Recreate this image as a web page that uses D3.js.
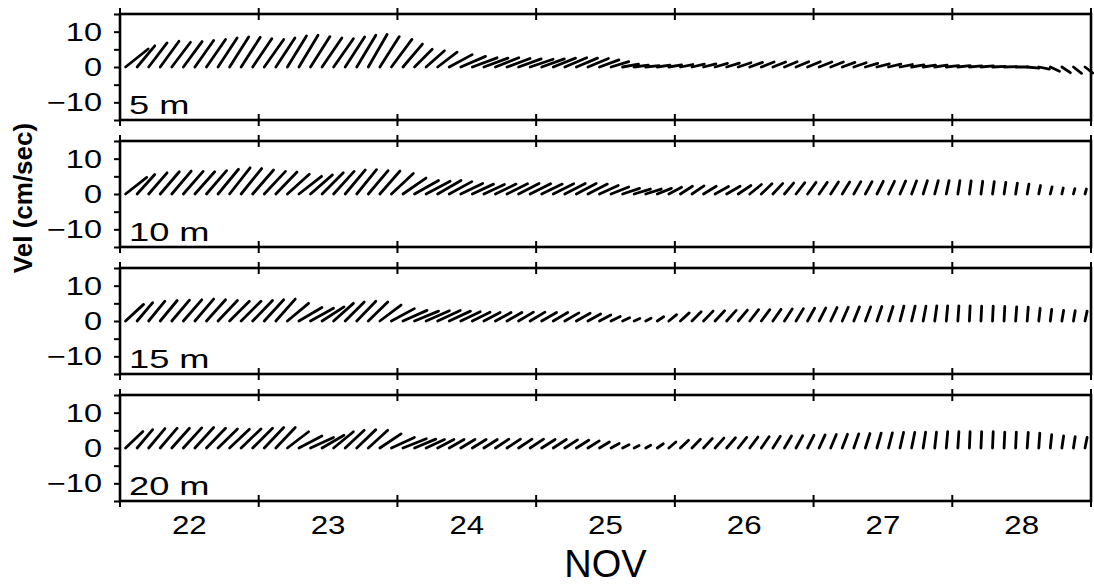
<!DOCTYPE html>
<html><head><meta charset="utf-8">
<script src="https://cdn.jsdelivr.net/npm/d3@7"></script>
<style>
body{margin:0;background:#fff;}
svg{display:block;}
text{font-family:"Liberation Sans",Arial,Helvetica,sans-serif;fill:#000;}
</style>
</head><body>
<svg id="chart" width="1094" height="584"></svg>
<script>
// ---- data ----
const dayTicks = [22,23,24,25,26,27,28,29];
const dayLabels = [22,23,24,25,26,27,28];
const monthLabel = "NOV";
const yAxisTitle = "Vel (cm/sec)";
const yTickValues = [-15,-10,-5,0,5,10,15];
const yTickLabels = [10,0,-10];
const depthLabels = ["5 m","10 m","15 m","20 m"];
const firstTime = 22.04;      // day of Nov of first stick
const stepDays = 1/12;        // 2-hourly sticks

const u5 = [6.4,5.0,5.2,5.3,5.3,5.3,5.3,5.4,5.4,5.4,5.4,5.4,5.5,5.4,5.4,5.4,5.5,5.6,5.6,5.5,5.4,5.3,5.5,5.8,
 5.5,5.0,5.2,5.5,6.5,7.0,7.0,6.8,6.6,6.5,6.4,6.5,6.4,6.3,6.2,6.0,5.8,5.5,5.0,4.5,4.0,3.8,3.6,3.6,
 3.5,3.5,3.5,3.5,3.6,3.6,3.6,3.6,3.6,3.6,3.6,3.6,3.6,3.6,3.6,3.5,3.5,3.5,3.5,3.5,3.5,3.5,3.5,3.5,
 3.5,3.5,3.5,3.5,3.5,3.4,3.3,3.0,2.6,2.4,2.3,2.2];
const v5 = [5.1,6.0,6.8,7.3,7.0,7.2,7.5,7.8,8.2,8.5,8.4,8.0,7.8,8.2,8.8,9.0,8.6,8.2,8.0,8.5,9.0,9.2,8.6,7.8,
 6.5,5.0,4.6,4.2,3.5,3.0,2.6,2.5,2.6,2.4,2.3,2.2,2.3,2.5,2.6,2.5,2.4,2.0,1.5,0.8,0.5,0.4,0.5,0.6,
 0.7,0.8,0.9,1.0,1.1,1.2,1.3,1.4,1.4,1.5,1.5,1.5,1.4,1.4,1.3,1.2,1.0,0.9,0.8,0.7,0.6,0.5,0.5,0.4,
 0.4,0.3,0.3,0.2,0.1,0.0,-0.3,-0.6,-1.2,-1.6,-1.8,-1.7];

const u10 = [6.0,5.0,5.2,5.4,5.5,5.6,5.6,5.7,5.8,5.8,5.8,5.9,6.0,6.0,6.2,6.4,6.2,6.0,5.8,5.7,5.6,5.6,5.7,6.2,
 6.5,6.8,6.8,6.6,6.4,6.2,6.0,5.8,5.8,5.8,5.8,5.8,5.8,5.8,5.8,5.6,5.5,5.3,5.0,4.8,4.6,4.4,4.0,3.6,
 3.4,3.4,3.6,3.8,3.8,3.6,3.3,3.0,2.8,2.6,2.5,2.4,2.3,2.2,2.1,2.0,1.9,1.8,1.7,1.6,1.4,1.2,1.0,0.8,
 0.6,0.5,0.5,0.5,0.5,0.5,0.5,0.5,0.5,0.4,0.4,0.4];
const v10 = [4.7,5.5,6.0,6.3,6.5,6.4,6.3,6.6,7.0,7.4,7.2,6.8,6.4,6.2,5.6,5.0,5.4,6.0,6.4,6.8,6.9,6.6,6.5,5.8,
 4.5,3.8,3.6,3.8,3.5,3.0,2.8,2.7,2.8,2.9,3.0,2.9,2.8,2.9,3.0,3.0,2.8,2.4,2.0,1.6,1.4,1.4,1.6,1.9,
 2.2,2.3,2.2,2.1,2.2,2.4,2.7,2.9,3.0,3.1,3.2,3.3,3.3,3.4,3.4,3.5,3.5,3.6,3.6,3.7,3.7,3.8,3.8,3.8,
 3.8,3.7,3.6,3.5,3.3,3.1,2.8,2.4,2.0,1.7,1.5,1.4];

const u15 = [5.1,4.4,4.6,4.8,5.0,5.2,5.3,5.4,5.5,5.6,5.6,5.6,5.5,5.5,6.0,6.5,6.5,6.2,5.6,5.4,5.4,5.5,6.0,6.5,
 6.8,6.8,6.6,6.4,6.0,5.5,5.0,4.6,4.4,4.2,4.2,4.2,4.2,4.1,4.0,3.9,3.6,3.2,2.6,2.0,1.6,1.5,1.8,2.2,
 2.5,2.6,2.7,2.7,2.7,2.6,2.5,2.4,2.3,2.2,2.1,2.0,1.9,1.8,1.7,1.6,1.5,1.4,1.3,1.1,1.0,0.8,0.6,0.4,
 0.3,0.2,0.2,0.2,0.2,0.3,0.3,0.4,0.4,0.5,0.5,0.6];
const v15 = [4.7,5.2,5.6,5.8,5.9,6.0,6.2,6.0,5.8,5.6,5.6,5.8,6.0,6.2,5.0,3.8,3.6,4.0,5.0,5.4,5.6,5.4,4.5,3.5,
 3.0,2.8,2.9,3.0,2.8,2.6,2.5,2.4,2.4,2.4,2.5,2.5,2.4,2.4,2.3,2.2,2.0,1.7,1.3,0.9,0.7,0.8,1.2,1.8,
 2.3,2.6,2.8,2.9,3.0,3.1,3.2,3.2,3.3,3.4,3.5,3.6,3.7,3.8,3.9,4.0,4.0,4.1,4.1,4.2,4.2,4.2,4.3,4.3,
 4.3,4.3,4.2,4.2,4.1,4.0,3.9,3.6,3.3,3.0,2.9,2.8];

const u20 = [4.9,4.4,4.6,4.8,5.0,5.2,5.3,5.4,5.5,5.6,5.6,5.6,5.5,5.5,6.0,6.5,6.5,6.2,5.6,5.4,5.4,5.5,6.0,6.5,
 6.6,6.0,5.2,4.6,4.2,4.0,3.9,3.8,3.8,3.8,3.8,3.8,3.8,3.7,3.6,3.5,3.2,2.8,2.3,1.8,1.4,1.4,1.7,2.0,
 2.3,2.4,2.5,2.5,2.5,2.4,2.3,2.2,2.1,2.0,1.9,1.8,1.7,1.6,1.5,1.4,1.3,1.2,1.1,1.0,0.9,0.7,0.5,0.4,
 0.3,0.2,0.2,0.2,0.2,0.2,0.3,0.3,0.4,0.5,0.5,0.6];
const v20 = [4.7,5.2,5.5,5.6,5.6,5.7,5.8,5.6,5.4,5.3,5.4,5.6,5.8,5.8,4.6,3.4,3.0,3.6,4.6,5.0,5.2,5.0,4.0,3.0,
 2.6,2.5,2.4,2.4,2.4,2.4,2.4,2.4,2.5,2.5,2.5,2.5,2.4,2.4,2.3,2.2,2.0,1.7,1.3,0.9,0.7,0.8,1.2,1.7,
 2.2,2.5,2.7,2.8,2.9,3.0,3.1,3.2,3.3,3.4,3.5,3.6,3.7,3.8,3.9,4.0,4.1,4.2,4.3,4.4,4.4,4.5,4.5,4.6,
 4.6,4.6,4.6,4.6,4.5,4.5,4.4,4.2,3.8,3.4,3.2,3.0];

const uSeries = [u5,u10,u15,u20];
const vSeries = [v5,v10,v15,v20];

// ---- layout ----
const left = 120, right = 1091;
const top0 = 14, panelH = 106, panelStep = 127;
const svg = d3.select("#chart");
const x = d3.scaleLinear().domain([dayTicks[0], dayTicks[dayTicks.length-1]]).range([left, right]);
const lw = 2.6;

depthLabels.forEach((lab, k) => {
  const top = top0 + k*panelStep, bot = top + panelH;
  const y = d3.scaleLinear().domain([-15,15]).range([bot, top]);
  const pxPerUnit = y(0) - y(1);
  const g = svg.append("g");

  // sticks
  const us = uSeries[k], vs = vSeries[k];
  const data = us.map((u,i)=>({t: firstTime + i*stepDays, u, v: vs[i]}));
  g.append("g").selectAll("line").data(data).join("line")
    .attr("x1", d=>x(d.t)).attr("y1", y(0))
    .attr("x2", d=>x(d.t) + d.u*pxPerUnit).attr("y2", d=>y(d.v))
    .attr("stroke","#000").attr("stroke-width",2.8).attr("stroke-linecap","round");

  // frame
  g.append("rect").attr("x",left).attr("y",top).attr("width",right-left).attr("height",panelH)
    .attr("fill","none").attr("stroke","#000").attr("stroke-width",lw);

  // x ticks crossing top and bottom borders
  [top, bot].forEach(yy=>{
    g.append("g").selectAll("line").data(dayTicks).join("line")
      .attr("x1", d=>x(d)).attr("x2", d=>x(d))
      .attr("y1", yy-6).attr("y2", yy+6)
      .attr("stroke","#000").attr("stroke-width",2);
  });

  // y axis ticks
  const ax = d3.axisLeft(y).tickValues(yTickValues).tickSize(6).tickFormat("");
  const axg = g.append("g").attr("transform",`translate(${left},0)`).call(ax);
  axg.select(".domain").remove();
  axg.selectAll(".tick line").attr("stroke","#000").attr("stroke-width",2);

  // y tick labels
  g.append("g").selectAll("text").data(yTickLabels).join("text")
    .attr("transform", d=>`translate(102,${y(d)}) scale(1.3,1)`)
    .attr("text-anchor","end").attr("dy","0.36em")
    .attr("font-size",25)
    .text(d=> d<0 ? "\u2212"+Math.abs(d) : String(d));

  // depth label
  g.append("text")
    .attr("transform",`translate(129,${bot-6}) scale(1.45,1)`)
    .attr("font-size",25)
    .text(lab.replace(" ", "\u00a0"));
});

// x labels under bottom panel
const lastBot = top0 + 3*panelStep + panelH;
svg.append("g").selectAll("text").data(dayLabels).join("text")
  .attr("transform", d=>`translate(${x(d+0.5)},${lastBot+33}) scale(1.25,1)`)
  .attr("text-anchor","middle").attr("font-size",25)
  .text(d=>d);

svg.append("text")
  .attr("x", (left+right)/2).attr("y", 577)
  .attr("text-anchor","middle").attr("font-size",38)
  .text(monthLabel);

svg.append("text")
  .attr("transform","translate(32,198) rotate(-90)")
  .attr("text-anchor","middle").attr("font-size",26).attr("font-weight","bold")
  .text(yAxisTitle);
</script>
</body></html>
